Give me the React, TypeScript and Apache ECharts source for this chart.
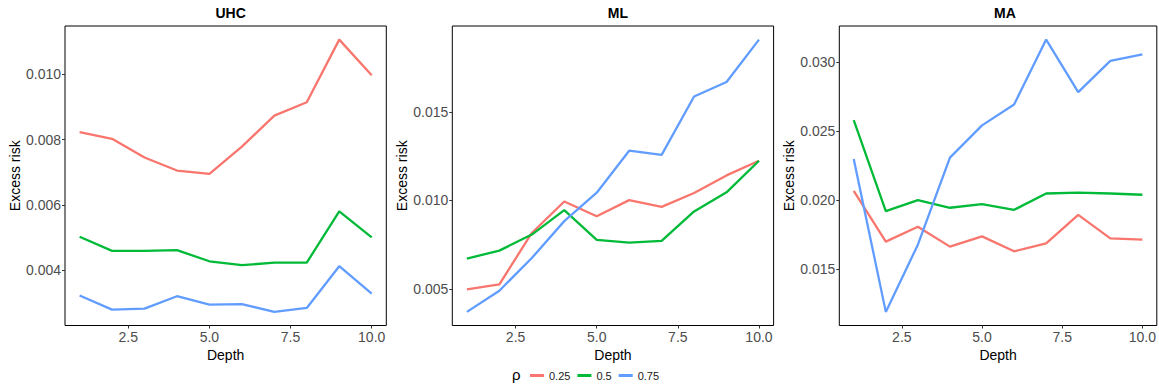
import React, { useEffect, useRef } from "react";
import * as echarts from "echarts";

// Tree depth on the x axis
const depth = [1, 2, 3, 4, 5, 6, 7, 8, 9, 10];

// Excess risk by correlation level (rho) for each method
const uhcRho025 = [0.00823, 0.00802, 0.00745, 0.00705, 0.00695, 0.00778, 0.00873, 0.00914, 0.01106, 0.00997];
const uhcRho05 = [0.00502, 0.00459, 0.00459, 0.00461, 0.00427, 0.00415, 0.00423, 0.00423, 0.0058, 0.005];
const uhcRho075 = [0.00322, 0.00279, 0.00282, 0.0032, 0.00294, 0.00296, 0.00272, 0.00284, 0.00412, 0.00328];

const mlRho025 = [0.00496, 0.00525, 0.00816, 0.00994, 0.00911, 0.01002, 0.00964, 0.01042, 0.01142, 0.01225];
const mlRho05 = [0.00671, 0.00716, 0.00807, 0.00945, 0.00777, 0.00761, 0.00771, 0.00938, 0.01046, 0.01225];
const mlRho075 = [0.00369, 0.00489, 0.00674, 0.00883, 0.01044, 0.01282, 0.01258, 0.01589, 0.01671, 0.01911];

const maRho025 = [0.02067, 0.017, 0.01808, 0.01664, 0.01738, 0.0163, 0.01688, 0.01894, 0.01724, 0.01714];
const maRho05 = [0.02579, 0.01921, 0.02, 0.01945, 0.01971, 0.0193, 0.02048, 0.02055, 0.02048, 0.02039];
const maRho075 = [0.02298, 0.01192, 0.01678, 0.02308, 0.02541, 0.02692, 0.03161, 0.02781, 0.03007, 0.03055];

const rhoLabels = ["0.25", "0.5", "0.75"];
const panelTitles = ["UHC", "ML", "MA"];
const xTicks = [2.5, 5, 7.5, 10];
const yTicks = [
  [0.004, 0.006, 0.008, 0.01],
  [0.005, 0.01, 0.015],
  [0.015, 0.02, 0.025, 0.03],
];

const colors = ["#F8766D", "#00BA38", "#619CFF"];
const FONT = "'Liberation Sans', Arial, Helvetica, sans-serif";

const panels = [
  [uhcRho025, uhcRho05, uhcRho075],
  [mlRho025, mlRho05, mlRho075],
  [maRho025, maRho05, maRho075],
];

const gridLefts = [65, 452.3, 839.3];
const GRID_TOP = 26;
const GRID_W = 321.3;
const GRID_H = 299.5;

function expandedRange(values: number[]): [number, number] {
  const lo = Math.min(...values);
  const hi = Math.max(...values);
  const pad = (hi - lo) * 0.05;
  return [lo - pad, hi + pad];
}

export default function App() {
  const ref = useRef<HTMLDivElement>(null);

  useEffect(() => {
    if (!ref.current) return;
    const chart = echarts.init(ref.current, null, { renderer: "svg" });

    const grids: any[] = [];
    const xAxes: any[] = [];
    const yAxes: any[] = [];
    const series: any[] = [];
    const titles: any[] = [];

    const xPad = (depth[depth.length - 1] - depth[0]) * 0.05;

    panels.forEach((group, i) => {
      grids.push({
        left: gridLefts[i],
        top: GRID_TOP,
        width: GRID_W,
        height: GRID_H,
        show: true,
        borderColor: "#000000",
        borderWidth: 1,
        backgroundColor: "transparent",
        containLabel: false,
      });

      xAxes.push({
        type: "value",
        gridIndex: i,
        min: depth[0] - xPad,
        max: depth[depth.length - 1] + xPad,
        name: "Depth",
        nameLocation: "middle",
        nameGap: 18,
        nameTextStyle: { color: "#000000", fontSize: 14, fontFamily: FONT },
        axisLine: { show: false },
        axisTick: {
          show: true,
          length: 3,
          customValues: xTicks,
          lineStyle: { color: "#333333", width: 1 },
        },
        axisLabel: {
          show: true,
          customValues: xTicks,
          margin: 4,
          color: "#4D4D4D",
          fontSize: 14,
          fontFamily: FONT,
          formatter: (v: number) => v.toFixed(1),
        },
        splitLine: { show: false },
      });

      const [yMin, yMax] = expandedRange(group.flat());
      yAxes.push({
        type: "value",
        gridIndex: i,
        min: yMin,
        max: yMax,
        name: "Excess risk",
        nameLocation: "middle",
        nameGap: 43,
        nameTextStyle: { color: "#000000", fontSize: 14, fontFamily: FONT },
        axisLine: { show: false },
        axisTick: {
          show: true,
          length: 3,
          customValues: yTicks[i],
          lineStyle: { color: "#333333", width: 1 },
        },
        axisLabel: {
          show: true,
          customValues: yTicks[i],
          margin: 4,
          color: "#4D4D4D",
          fontSize: 14,
          fontFamily: FONT,
          formatter: (v: number) => v.toFixed(3),
        },
        splitLine: { show: false },
      });

      group.forEach((vals, k) => {
        series.push({
          type: "line",
          name: rhoLabels[k],
          xAxisIndex: i,
          yAxisIndex: i,
          data: depth.map((d, j) => [d, vals[j]]),
          showSymbol: false,
          symbol: "none",
          lineStyle: { color: colors[k], width: 2.3 },
          itemStyle: { color: colors[k] },
          emphasis: { disabled: true },
          z: 3 + k,
        });
      });

      titles.push({
        text: panelTitles[i],
        left: gridLefts[i] + GRID_W / 2,
        top: 1,
        textAlign: "center",
        textStyle: { fontSize: 14, fontWeight: "bold", color: "#000000", fontFamily: FONT },
      });
    });

    chart.setOption({
      animation: false,
      backgroundColor: "#ffffff",
      title: titles,
      grid: grids,
      xAxis: xAxes,
      yAxis: yAxes,
      series,
      legend: {
        data: rhoLabels.map((name, k) => ({
          name,
          icon: "rect",
          itemStyle: { color: colors[k] },
        })),
        left: 525,
        top: 365,
        itemWidth: 14,
        itemHeight: 3,
        itemGap: 7,
        selectedMode: false,
        textStyle: { fontSize: 11, color: "#1A1A1A", fontFamily: FONT, padding: [0, 0, 0, 0] },
      },
      graphic: [
        {
          type: "text",
          left: 512,
          top: 367,
          style: { text: "ρ", fontSize: 15, fill: "#000000", fontFamily: FONT },
        },
      ],
    });

    return () => chart.dispose();
  }, []);

  return (
    <div
      ref={ref}
      style={{ position: "fixed", left: 0, top: 0, width: 1159, height: 388, background: "#ffffff" }}
    />
  );
}
